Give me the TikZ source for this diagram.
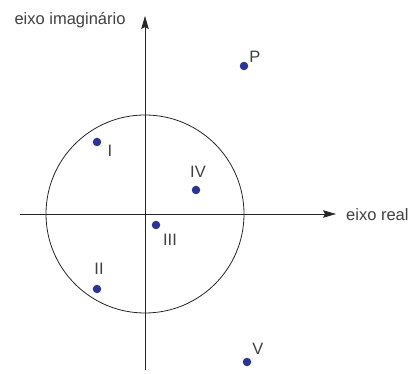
\documentclass[tikz,border=0pt]{standalone}
\usepackage{fontspec}
\setmainfont{Liberation Sans}
\usetikzlibrary{arrows.meta}
\definecolor{ponto}{HTML}{2B3494}
\tikzset{
  pto/.style={circle, fill=ponto, inner sep=0pt, minimum size=8.5pt},
  rot/.style={text=black!75, inner sep=0pt},
  eixo/.style={thick, black!85, -{Stealth[length=13pt,width=7.5pt,inset=2pt]}}
}
\begin{document}
\begin{tikzpicture}[x=1pt,y=1pt,font=\fontsize{16.5}{18}\selectfont]
  \useasboundingbox (-145,-160) rectangle (272,214);
  \draw[thick, black!85] (0,0) circle (99);
  \coordinate (xa) at (-125,0);
  \coordinate (xb) at (191,0);
  \coordinate (ya) at (0,-156);
  \coordinate (yb) at (0,198);
  \draw[eixo] (xa) -- (xb);
  \draw[eixo] (ya) -- (yb);
  \node[rot, anchor=west] (re) at (201,-1) {eixo real};
  \node[rot] (im) at (-75,194) {eixo imaginário};
  \node[pto] (p) at (99,148) {};
  \node[pto] (i) at (-48,72) {};
  \node[pto] (iv) at (51,24) {};
  \node[pto] (iii) at (11,-11) {};
  \node[pto] (ii) at (-48,-75) {};
  \node[pto] (v) at (102,-148) {};
  \node[rot] (lp) at (110,157) {P};
  \node[rot] (li) at (-35,63) {I};
  \node[rot] (liv) at (53,42) {IV};
  \node[rot] (liii) at (25,-26) {III};
  \node[rot] (lii) at (-46,-55) {II};
  \node[rot] (lv) at (113,-135) {V};
\end{tikzpicture}
\end{document}
